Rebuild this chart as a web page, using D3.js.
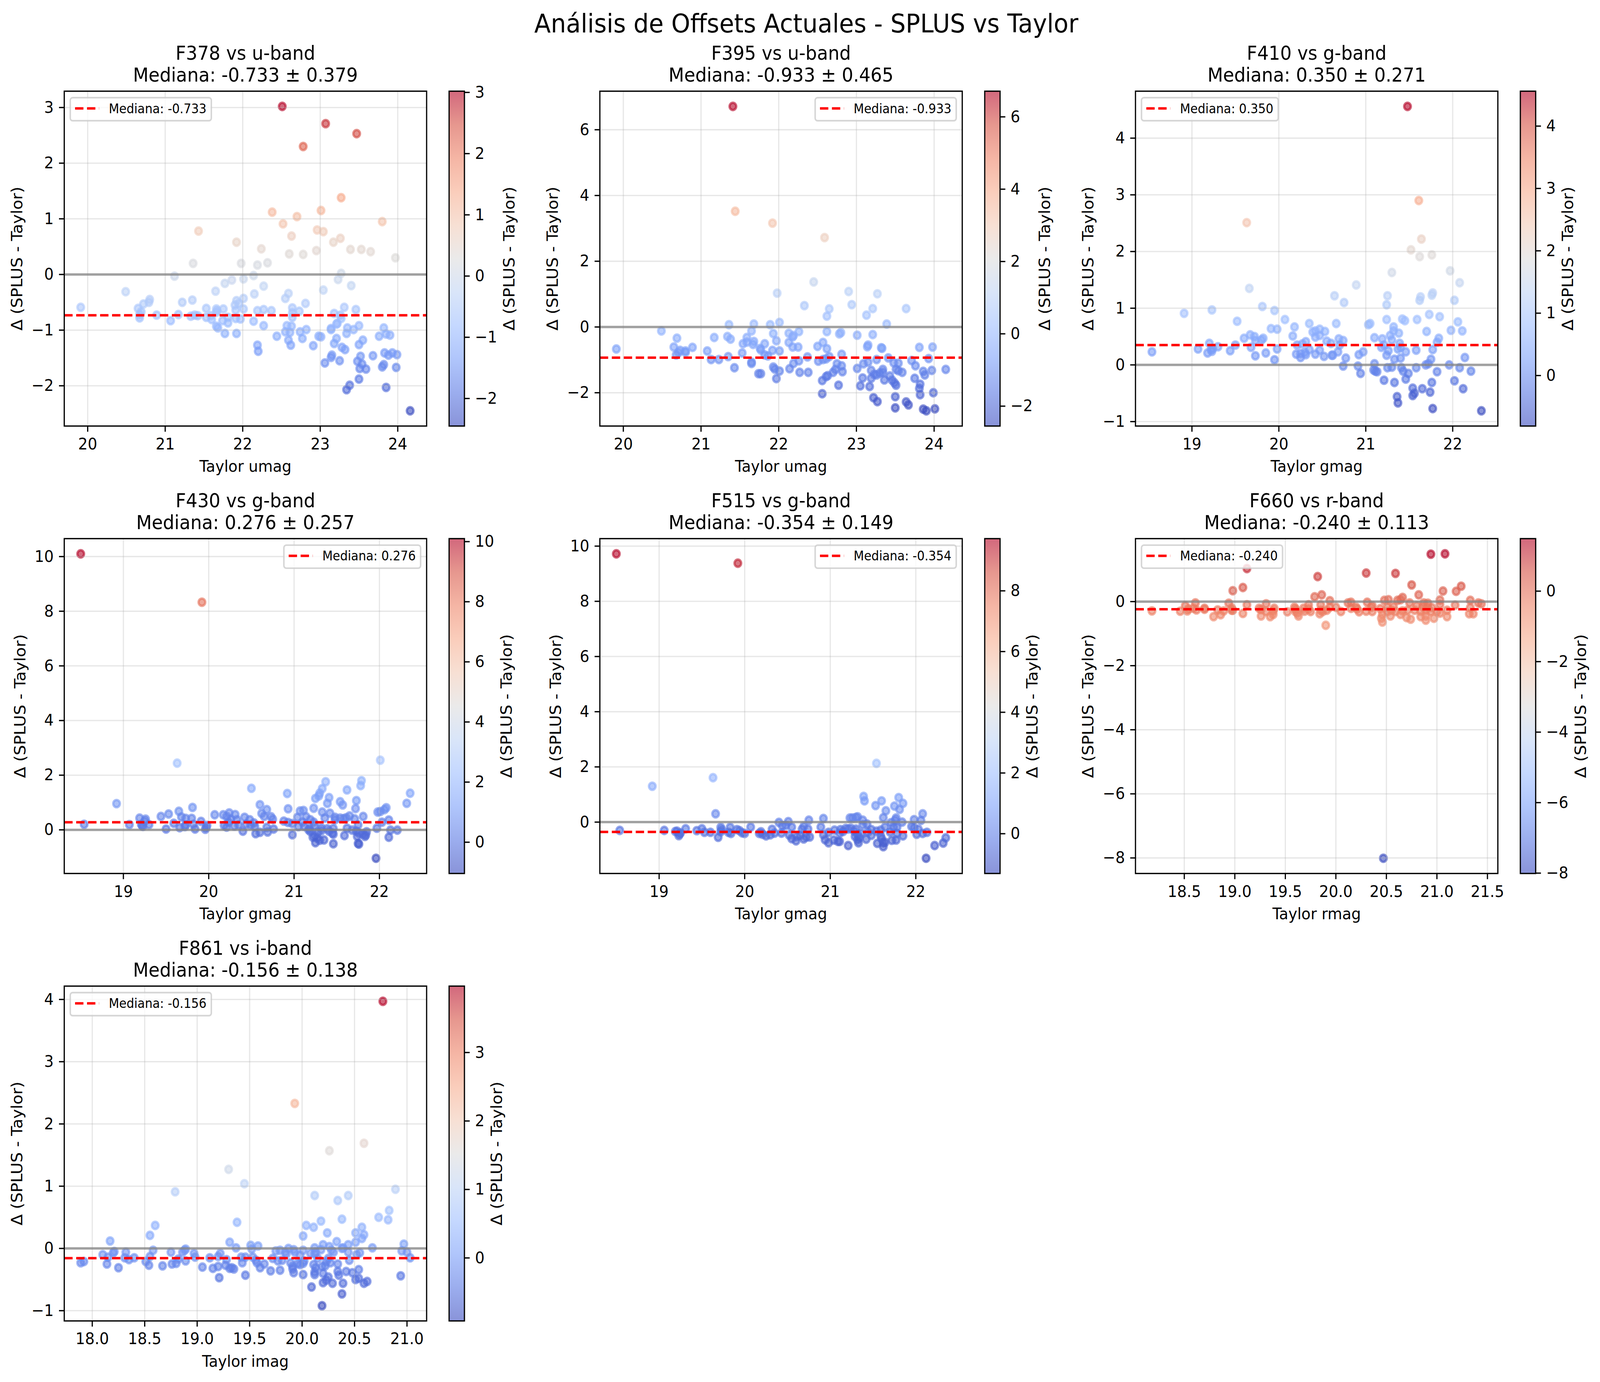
<!DOCTYPE html>
<html><head><meta charset="utf-8">
<script src="https://cdn.jsdelivr.net/npm/d3@7"></script>
<style>html,body{margin:0;padding:0;background:#fff;overflow:hidden}svg{display:block;width:100vw;height:100vh}text{font-family:"DejaVu Sans";fill:#000}</style>
</head><body><svg id="fig" viewBox="0 0 4433 3539" preserveAspectRatio="none"></svg>
<script>
const F378=[[22.51,3.02],[23.07,2.71],[23.47,2.53],[22.78,2.30],[23.27,1.38],[22.38,1.12],[23.01,1.15],[22.70,1.04],[22.52,0.91],[23.80,0.95],[21.43,0.78],[22.96,0.80],[23.04,0.77],[22.63,0.69],[23.26,0.65],[23.17,0.58],[21.92,0.58],[22.24,0.46],[23.39,0.45],[23.53,0.45],[23.65,0.41],[22.95,0.43],[22.60,0.37],[22.78,0.36],[23.97,0.30],[21.36,0.20],[21.98,0.20],[22.19,0.17],[22.32,0.21],[23.27,0.02],[21.12,-0.03],[22.14,-0.02],[22.01,-0.08],[23.23,-0.09],[21.86,-0.10],[21.77,-0.16],[23.40,-0.20],[22.27,-0.21],[23.04,-0.28],[21.65,-0.30],[20.49,-0.31],[22.59,-0.34],[22.15,-0.35],[22.55,-0.43],[22.01,-0.43],[21.92,-0.47],[21.35,-0.46],[20.80,-0.45],[20.79,-0.50],[20.72,-0.53],[21.22,-0.50],[22.81,-0.52],[21.95,-0.52],[21.90,-0.55],[19.91,-0.59],[20.65,-0.61],[21.53,-0.61],[21.66,-0.62],[21.75,-0.62],[22.64,-0.60],[22.27,-0.63],[21.67,-0.65],[23.46,-0.63],[23.31,-0.59],[22.01,-0.62],[21.91,-0.64],[22.19,-0.65],[22.37,-0.65],[22.73,-0.66],[22.64,-0.69],[23.18,-0.70],[23.26,-0.73],[20.69,-0.67],[20.67,-0.72],[20.67,-0.78],[21.17,-0.72],[20.89,-0.73],[21.33,-0.75],[21.38,-0.73],[21.42,-0.74],[21.53,-0.77],[21.59,-0.74],[21.60,-0.81],[21.66,-0.68],[21.81,-0.77],[21.74,-0.83],[21.81,-0.87],[21.91,-0.79],[21.97,-0.80],[22.14,-0.84],[22.64,-0.77],[23.27,-0.79],[21.07,-0.83],[23.22,-0.88],[23.21,-0.89],[21.66,-0.93],[21.68,-0.96],[22.57,-0.92],[22.63,-0.93],[22.27,-0.92],[23.50,-0.92],[23.82,-0.96],[23.14,-0.97],[23.14,-0.99],[23.35,-0.96],[23.43,-0.99],[22.82,-0.99],[22.74,-1.03],[22.55,-1.03],[22.61,-1.04],[23.34,-1.06],[21.77,-1.06],[21.92,-1.06],[23.85,-1.07],[23.90,-1.09],[23.76,-1.11],[22.44,-1.11],[22.98,-1.11],[23.01,-1.12],[23.21,-1.15],[22.77,-1.15],[23.55,-1.18],[22.59,-1.18],[23.18,-1.24],[23.50,-1.26],[22.62,-1.27],[22.91,-1.28],[22.19,-1.27],[23.28,-1.31],[23.32,-1.35],[22.20,-1.38],[23.83,-1.41],[23.93,-1.41],[23.99,-1.44],[23.88,-1.45],[23.68,-1.46],[23.15,-1.45],[23.14,-1.49],[23.52,-1.47],[23.48,-1.56],[23.25,-1.55],[23.06,-1.59],[23.54,-1.61],[23.82,-1.62],[23.80,-1.66],[23.98,-1.67],[23.51,-1.69],[23.59,-1.70],[23.50,-1.88],[23.38,-1.99],[23.34,-2.07],[23.85,-2.03],[24.16,-2.45]];
const F395=[[21.41,6.71],[21.44,3.52],[21.92,3.16],[22.59,2.72],[22.45,1.37],[21.98,1.03],[22.90,1.08],[23.27,1.01],[22.33,0.65],[22.94,0.68],[22.65,0.55],[23.21,0.56],[23.64,0.56],[22.62,0.33],[23.13,0.36],[23.39,0.09],[21.36,0.07],[21.68,0.09],[21.89,0.07],[22.01,0.14],[20.49,-0.12],[21.65,-0.12],[22.62,-0.14],[22.26,-0.14],[22.80,-0.17],[22.78,-0.21],[22.13,-0.19],[21.93,-0.20],[23.21,-0.23],[23.01,-0.25],[22.19,-0.26],[22.18,-0.30],[21.17,-0.32],[20.69,-0.34],[21.34,-0.29],[21.38,-0.37],[21.59,-0.32],[21.97,-0.42],[21.68,-0.44],[21.59,-0.46],[21.54,-0.51],[21.67,-0.53],[21.82,-0.51],[22.13,-0.47],[22.57,-0.47],[23.15,-0.55],[23.14,-0.60],[22.50,-0.59],[19.91,-0.67],[20.65,-0.61],[20.89,-0.62],[22.18,-0.61],[22.25,-0.61],[23.32,-0.63],[23.33,-0.65],[23.81,-0.62],[23.98,-0.61],[21.76,-0.65],[21.77,-0.70],[22.62,-0.66],[20.73,-0.71],[20.80,-0.73],[20.80,-0.77],[21.08,-0.73],[21.92,-0.71],[22.01,-0.73],[20.71,-0.78],[20.68,-0.85],[21.53,-0.79],[22.81,-0.83],[21.82,-0.85],[21.86,-0.88],[21.35,-0.90],[22.37,-0.91],[22.65,-0.90],[23.41,-0.94],[23.93,-0.96],[21.13,-0.99],[21.23,-0.99],[23.26,-0.99],[22.61,-0.97],[22.57,-0.99],[22.51,-1.04],[22.26,-1.03],[23.71,-1.02],[23.54,-1.10],[23.48,-1.09],[23.15,-1.07],[23.09,-1.12],[21.65,-1.07],[21.65,-1.11],[22.19,-1.11],[22.75,-1.12],[22.81,-1.18],[23.76,-1.18],[21.93,-1.22],[21.43,-1.24],[21.95,-1.28],[22.14,-1.27],[22.73,-1.29],[23.01,-1.26],[23.34,-1.29],[23.19,-1.32],[23.51,-1.29],[23.54,-1.33],[23.59,-1.38],[23.86,-1.35],[23.97,-1.32],[24.15,-1.29],[22.01,-1.34],[22.27,-1.38],[22.38,-1.38],[22.70,-1.38],[22.82,-1.36],[23.30,-1.40],[23.34,-1.38],[23.23,-1.44],[23.26,-1.46],[21.74,-1.42],[21.77,-1.42],[22.63,-1.48],[22.61,-1.51],[23.43,-1.49],[23.88,-1.46],[23.19,-1.56],[23.08,-1.55],[23.46,-1.62],[21.97,-1.57],[23.75,-1.56],[23.36,-1.61],[22.56,-1.63],[23.49,-1.70],[23.51,-1.77],[22.77,-1.77],[23.05,-1.79],[23.17,-1.81],[23.82,-1.74],[23.81,-1.87],[23.99,-2.00],[22.56,-2.03],[23.82,-2.06],[23.50,-2.12],[23.22,-2.15],[23.27,-2.27],[23.64,-2.28],[23.67,-2.37],[23.50,-2.46],[23.86,-2.50],[23.90,-2.55],[24.01,-2.49]];
const F410=[[21.48,4.56],[21.61,2.90],[19.63,2.51],[21.64,2.22],[21.52,2.03],[21.62,1.91],[21.76,1.94],[21.30,1.63],[21.97,1.66],[22.08,1.45],[20.89,1.41],[19.66,1.35],[20.64,1.22],[21.25,1.22],[21.77,1.27],[21.76,1.23],[21.63,1.20],[21.62,1.14],[22.02,1.14],[20.75,1.10],[21.24,1.06],[18.91,0.91],[19.23,0.97],[19.81,1.03],[19.95,0.96],[20.07,0.80],[19.52,0.77],[20.18,0.67],[20.35,0.73],[20.66,0.73],[21.03,0.71],[21.05,0.73],[21.24,0.80],[21.42,0.81],[21.45,0.78],[21.59,0.80],[21.73,0.89],[21.85,0.85],[22.06,0.76],[21.98,0.61],[22.11,0.60],[19.91,0.64],[19.98,0.63],[20.47,0.63],[20.42,0.60],[20.39,0.58],[20.53,0.59],[21.32,0.67],[21.32,0.60],[21.38,0.56],[21.28,0.52],[21.70,0.59],[20.16,0.51],[20.47,0.52],[20.42,0.49],[19.60,0.47],[19.67,0.53],[19.72,0.50],[19.73,0.43],[19.82,0.47],[19.80,0.44],[20.69,0.46],[20.74,0.43],[20.55,0.42],[20.31,0.41],[21.10,0.48],[21.19,0.46],[21.30,0.44],[21.84,0.47],[21.82,0.40],[19.20,0.38],[20.60,0.38],[20.27,0.37],[20.21,0.35],[20.70,0.35],[21.39,0.38],[21.21,0.35],[19.50,0.35],[19.30,0.32],[19.68,0.31],[21.18,0.31],[21.40,0.31],[19.24,0.29],[19.98,0.28],[20.35,0.27],[19.07,0.28],[19.22,0.27],[19.44,0.25],[20.47,0.26],[21.37,0.28],[21.26,0.25],[21.58,0.26],[21.77,0.27],[18.54,0.23],[19.18,0.21],[19.23,0.24],[19.85,0.21],[20.97,0.23],[21.46,0.23],[20.68,0.23],[20.30,0.22],[20.20,0.19],[20.25,0.20],[20.31,0.18],[20.42,0.19],[20.92,0.18],[21.24,0.17],[20.61,0.17],[20.62,0.17],[20.52,0.15],[19.73,0.16],[20.25,0.13],[19.95,0.09],[20.77,0.12],[21.40,0.12],[21.33,0.10],[21.75,0.10],[22.14,0.13],[21.10,0.02],[21.72,0.02],[21.69,0.00],[21.96,0.00],[20.74,-0.02],[20.91,-0.02],[21.25,-0.05],[21.30,-0.04],[21.41,-0.05],[21.58,-0.05],[22.08,-0.05],[21.09,-0.09],[21.11,-0.11],[21.13,-0.12],[21.43,-0.11],[21.82,-0.12],[22.21,-0.11],[20.94,-0.15],[21.49,-0.15],[21.46,-0.25],[21.21,-0.27],[21.33,-0.31],[21.76,-0.31],[22.02,-0.28],[21.54,-0.41],[21.65,-0.42],[22.12,-0.42],[21.74,-0.48],[21.56,-0.50],[21.54,-0.54],[21.36,-0.56],[21.37,-0.67],[21.77,-0.77],[22.33,-0.81]];
const F430=[[18.50,10.10],[19.92,8.33],[22.01,2.55],[19.63,2.44],[21.37,1.76],[21.79,1.80],[21.78,1.62],[21.33,1.51],[20.50,1.52],[21.62,1.46],[21.30,1.34],[20.92,1.33],[22.36,1.34],[21.29,1.24],[21.41,1.18],[21.25,1.15],[21.73,1.07],[21.54,1.03],[21.39,0.97],[21.57,0.91],[18.92,0.96],[20.60,0.92],[22.32,0.97],[19.81,0.82],[20.93,0.77],[20.68,0.74],[21.23,0.79],[21.72,0.78],[22.08,0.81],[22.06,0.74],[19.65,0.68],[21.11,0.71],[21.07,0.69],[21.33,0.65],[21.42,0.61],[21.98,0.65],[22.01,0.67],[20.24,0.62],[20.62,0.60],[20.07,0.55],[20.17,0.55],[20.31,0.56],[19.53,0.58],[20.65,0.49],[21.65,0.51],[19.44,0.49],[19.19,0.43],[19.68,0.47],[20.21,0.49],[20.42,0.46],[21.04,0.46],[21.14,0.48],[20.73,0.48],[21.81,0.49],[21.36,0.43],[21.48,0.46],[19.73,0.42],[19.80,0.42],[19.26,0.39],[20.26,0.39],[20.75,0.39],[21.71,0.40],[21.54,0.43],[21.58,0.41],[21.61,0.44],[20.48,0.37],[20.33,0.37],[21.19,0.37],[22.11,0.36],[21.48,0.37],[20.88,0.32],[19.91,0.31],[19.25,0.32],[20.93,0.27],[20.98,0.23],[19.59,0.24],[18.54,0.20],[19.07,0.19],[19.30,0.19],[19.21,0.20],[20.23,0.28],[20.53,0.25],[20.44,0.21],[20.49,0.18],[22.03,0.28],[21.23,0.28],[21.10,0.28],[21.24,0.16],[21.12,0.13],[21.75,0.18],[19.82,0.20],[19.22,0.15],[19.23,0.13],[19.66,0.08],[19.73,0.18],[19.72,0.12],[19.98,0.16],[19.97,0.09],[20.18,0.16],[20.21,0.10],[20.30,0.14],[20.35,0.18],[20.54,0.12],[20.68,0.09],[21.05,0.12],[19.50,0.03],[19.84,0.03],[19.96,0.02],[20.40,-0.05],[20.76,0.03],[21.18,0.04],[21.62,0.06],[21.97,0.06],[21.32,0.07],[21.39,0.04],[21.46,0.05],[21.17,0.00],[21.68,-0.01],[22.13,-0.01],[22.21,-0.01],[21.32,-0.03],[21.41,-0.05],[21.73,-0.05],[20.69,-0.08],[20.60,-0.09],[20.55,-0.14],[21.19,-0.06],[21.28,-0.09],[21.85,-0.07],[21.45,-0.12],[21.46,-0.16],[21.76,-0.12],[21.81,-0.16],[21.84,-0.19],[20.98,-0.18],[21.59,-0.21],[21.74,-0.24],[21.83,-0.24],[22.11,-0.27],[21.24,-0.22],[21.22,-0.27],[21.27,-0.30],[21.35,-0.37],[21.30,-0.38],[21.25,-0.47],[21.46,-0.51],[21.76,-0.52],[21.75,-0.50],[21.96,-1.04]];
const F515=[[18.50,9.72],[19.92,9.38],[21.54,2.13],[19.63,1.61],[18.92,1.30],[21.39,0.93],[21.80,0.89],[21.40,0.77],[21.60,0.77],[21.85,0.68],[21.53,0.60],[21.75,0.58],[21.81,0.46],[21.65,0.41],[19.66,0.30],[22.08,0.30],[21.62,0.16],[20.92,0.13],[21.23,0.15],[21.26,0.15],[21.32,0.19],[21.30,0.17],[20.75,0.07],[21.77,0.15],[21.98,0.09],[22.06,0.06],[21.38,0.07],[20.40,-0.01],[20.51,0.02],[21.76,0.07],[21.84,0.00],[21.71,-0.02],[21.43,-0.07],[21.38,-0.10],[20.44,-0.13],[20.48,-0.12],[20.69,-0.16],[21.95,-0.16],[20.89,-0.18],[20.07,-0.18],[19.72,-0.19],[19.83,-0.19],[19.31,-0.24],[19.50,-0.24],[20.55,-0.18],[21.64,-0.18],[21.74,-0.18],[21.78,-0.19],[21.98,-0.20],[18.54,-0.30],[19.06,-0.30],[19.19,-0.34],[19.21,-0.33],[19.44,-0.31],[19.73,-0.27],[19.91,-0.27],[19.94,-0.31],[20.32,-0.26],[20.67,-0.26],[20.74,-0.25],[21.05,-0.29],[21.12,-0.27],[21.18,-0.23],[21.21,-0.25],[21.24,-0.22],[21.30,-0.25],[21.48,-0.27],[21.59,-0.29],[22.03,-0.26],[19.53,-0.37],[19.60,-0.37],[19.24,-0.43],[19.23,-0.49],[19.25,-0.39],[19.69,-0.55],[19.72,-0.35],[19.81,-0.37],[19.84,-0.41],[19.97,-0.39],[20.00,-0.41],[20.19,-0.35],[20.17,-0.41],[20.21,-0.44],[20.25,-0.50],[20.30,-0.46],[20.35,-0.40],[20.43,-0.40],[20.52,-0.47],[20.55,-0.60],[20.61,-0.52],[20.65,-0.48],[20.60,-0.68],[20.69,-0.61],[20.72,-0.54],[20.76,-0.54],[20.92,-0.46],[20.98,-0.37],[20.94,-0.64],[20.98,-0.75],[21.04,-0.65],[21.09,-0.70],[21.11,-0.70],[21.11,-0.40],[21.15,-0.34],[21.21,-0.85],[21.28,-0.33],[21.32,-0.46],[21.29,-0.52],[21.34,-0.57],[21.32,-0.64],[21.33,-0.75],[21.36,-0.41],[21.42,-0.62],[21.48,-0.48],[21.44,-0.36],[21.54,-0.33],[21.59,-0.50],[21.55,-0.77],[21.60,-0.60],[21.62,-0.75],[21.62,-0.89],[21.64,-0.73],[21.72,-0.66],[21.77,-0.65],[21.70,-0.36],[21.78,-0.41],[21.85,-0.50],[22.01,-0.44],[22.08,-0.41],[22.13,-0.37],[22.12,-1.31],[22.22,-0.85],[22.32,-0.76],[22.35,-0.57]];
const F660=[[21.08,1.49],[20.94,1.48],[19.12,1.03],[20.30,0.89],[20.59,0.88],[19.82,0.78],[20.75,0.52],[21.24,0.48],[19.08,0.44],[18.98,0.34],[21.06,0.33],[21.19,0.32],[19.86,0.21],[20.82,0.21],[19.79,0.15],[20.66,0.13],[21.03,0.05],[21.33,0.04],[20.48,0.04],[20.52,0.06],[20.61,0.04],[20.64,0.06],[19.94,0.03],[18.61,-0.04],[18.94,-0.05],[20.12,-0.04],[20.15,-0.02],[20.31,-0.02],[19.31,-0.07],[20.73,-0.04],[20.87,-0.04],[20.91,-0.05],[21.41,-0.04],[21.44,-0.07],[18.51,-0.13],[19.12,-0.10],[19.73,-0.10],[21.18,-0.11],[19.85,-0.10],[20.36,-0.13],[19.59,-0.18],[19.60,-0.23],[20.80,-0.13],[21.03,-0.09],[18.54,-0.23],[18.59,-0.21],[18.70,-0.21],[18.97,-0.20],[19.24,-0.21],[19.39,-0.21],[18.98,-0.27],[19.94,-0.18],[20.00,-0.18],[20.15,-0.21],[20.20,-0.18],[20.21,-0.23],[20.35,-0.18],[20.51,-0.18],[20.57,-0.16],[20.86,-0.16],[20.91,-0.18],[20.95,-0.19],[21.33,-0.19],[19.68,-0.21],[19.73,-0.23],[21.10,-0.27],[18.18,-0.29],[18.46,-0.30],[18.53,-0.29],[18.62,-0.26],[18.70,-0.24],[18.83,-0.26],[18.89,-0.29],[18.97,-0.27],[19.26,-0.25],[19.31,-0.31],[19.38,-0.29],[19.52,-0.32],[19.60,-0.31],[19.62,-0.36],[19.69,-0.30],[19.75,-0.31],[19.85,-0.27],[19.87,-0.31],[19.91,-0.27],[20.05,-0.31],[20.23,-0.32],[20.30,-0.30],[20.36,-0.31],[20.44,-0.22],[20.46,-0.40],[20.51,-0.31],[20.55,-0.27],[20.59,-0.31],[20.66,-0.29],[20.71,-0.27],[20.78,-0.27],[20.84,-0.30],[20.89,-0.27],[20.94,-0.31],[21.00,-0.31],[21.03,-0.36],[21.32,-0.38],[21.36,-0.38],[19.08,-0.37],[19.84,-0.38],[19.26,-0.45],[19.35,-0.47],[18.86,-0.41],[18.79,-0.47],[19.38,-0.40],[19.63,-0.45],[21.10,-0.47],[20.54,-0.45],[20.64,-0.40],[20.84,-0.47],[20.89,-0.45],[20.97,-0.52],[20.70,-0.50],[20.74,-0.55],[20.45,-0.52],[20.89,-0.58],[20.46,-0.64],[19.90,-0.74],[20.47,-8.01]];
const F861=[[20.77,3.97],[19.93,2.33],[20.59,1.69],[20.26,1.57],[19.30,1.27],[19.45,1.04],[20.89,0.95],[18.79,0.91],[20.12,0.85],[20.44,0.85],[20.34,0.77],[20.83,0.61],[20.38,0.47],[20.73,0.50],[20.82,0.46],[19.38,0.42],[20.18,0.44],[18.60,0.37],[20.04,0.37],[20.11,0.34],[20.57,0.34],[20.24,0.25],[20.51,0.25],[20.59,0.22],[18.55,0.21],[20.01,0.20],[20.57,0.16],[18.17,0.12],[19.31,0.10],[20.33,0.11],[20.97,0.07],[20.51,0.10],[19.51,0.05],[19.58,0.04],[20.20,0.06],[20.44,0.06],[20.26,0.03],[19.37,0.01],[20.67,0.01],[20.12,0.01],[20.39,0.01],[19.87,0.00],[18.89,-0.01],[18.58,-0.03],[18.88,-0.03],[19.52,-0.01],[19.75,-0.04],[19.79,-0.03],[19.92,-0.02],[20.01,-0.03],[20.18,-0.02],[20.38,0.00],[20.28,-0.03],[20.30,-0.06],[20.95,-0.04],[18.21,-0.05],[18.32,-0.06],[18.20,-0.07],[18.75,-0.06],[18.86,-0.06],[19.84,-0.06],[19.93,-0.06],[20.44,-0.06],[21.00,-0.06],[20.55,-0.07],[20.13,-0.06],[18.97,-0.08],[19.22,-0.08],[19.85,-0.09],[19.98,-0.11],[20.08,-0.08],[20.12,-0.09],[20.52,-0.10],[18.10,-0.10],[18.15,-0.14],[19.20,-0.13],[18.55,-0.13],[18.31,-0.15],[18.35,-0.18],[18.40,-0.15],[18.98,-0.14],[18.82,-0.17],[19.12,-0.15],[19.28,-0.18],[19.42,-0.14],[19.46,-0.14],[19.53,-0.14],[19.72,-0.16],[20.15,-0.16],[20.25,-0.16],[21.03,-0.15],[18.51,-0.21],[18.89,-0.20],[19.56,-0.19],[19.77,-0.20],[19.81,-0.19],[19.89,-0.23],[19.43,-0.23],[19.57,-0.23],[20.02,-0.20],[19.96,-0.24],[20.23,-0.21],[20.27,-0.23],[20.45,-0.19],[17.89,-0.23],[17.92,-0.21],[18.14,-0.25],[18.54,-0.27],[18.76,-0.25],[18.80,-0.24],[19.64,-0.25],[20.34,-0.25],[19.98,-0.26],[20.01,-0.24],[18.67,-0.28],[19.27,-0.27],[19.20,-0.29],[20.11,-0.26],[20.22,-0.28],[20.19,-0.29],[19.91,-0.29],[18.25,-0.31],[19.05,-0.30],[19.60,-0.31],[19.31,-0.32],[19.15,-0.32],[19.33,-0.31],[19.35,-0.33],[20.13,-0.31],[19.91,-0.33],[19.79,-0.35],[20.54,-0.34],[19.70,-0.36],[20.34,-0.37],[20.42,-0.37],[19.92,-0.39],[20.12,-0.38],[20.20,-0.40],[20.48,-0.39],[20.35,-0.43],[20.12,-0.42],[20.01,-0.42],[19.46,-0.43],[20.94,-0.44],[19.21,-0.47],[20.54,-0.48],[20.25,-0.46],[20.51,-0.50],[20.23,-0.51],[20.62,-0.53],[20.20,-0.55],[20.29,-0.56],[20.39,-0.56],[20.59,-0.56],[20.09,-0.62],[20.38,-0.73],[20.19,-0.92]];

const series=[F378,F395,F410,F430,F515,F660,F861];
const filterNames=["F378","F395","F410","F430","F515","F660","F861"];
const bandNames=["u-band","u-band","g-band","g-band","g-band","r-band","i-band"];
const xNames=["Taylor umag","Taylor umag","Taylor gmag","Taylor gmag","Taylor gmag","Taylor rmag","Taylor imag"];
const medians=[-0.733,-0.933,0.350,0.276,-0.354,-0.240,-0.156];
const spreads=[0.379,0.465,0.271,0.257,0.149,0.113,0.138];
const xTickSets=[[20,21,22,23,24],[20,21,22,23,24],[19,20,21,22],[19,20,21,22],[19,20,21,22],[18.5,19,19.5,20,20.5,21,21.5],[18,18.5,19,19.5,20,20.5,21]];
const yTickSets=[[-2,-1,0,1,2,3],[-2,0,2,4,6],[-1,0,1,2,3,4],[0,2,4,6,8,10],[0,2,4,6,8,10],[-8,-6,-4,-2,0],[-1,0,1,2,3,4]];
const cbTickSets=[[-2,-1,0,1,2,3],[-2,0,2,4,6],[0,1,2,3,4],[0,2,4,6,8,10],[0,2,4,6,8],[-8,-6,-4,-2,0],[0,1,2,3]];
const legendSides=["left","right","left","right","right","left","left"];
const coolwarmStops=["#3b4cc0","#5977e3","#7b9ff9","#9ebeff","#c0d4f5","#dddcdc","#f2cbb7","#f7ac8e","#ee8468","#d65244","#b40426"];
const suptitle="Análisis de Offsets Actuales - SPLUS vs Taylor";
const cbLabel="Δ (SPLUS - Taylor)";

const PT=300/72;
const colLeft=[178,1662,3146], rowTop=[233.5,1379.3,2525.2], rowBottom=[1091,2236.8,3382.6];
const axW=1004, cbGap=62.3, cbW=42.5;
const svg=d3.select("#fig");
svg.append("text").attr("x",2234).attr("y",83).attr("text-anchor","middle").attr("font-size",16*PT).text(suptitle);
const defs=svg.append("defs");
const stopPos=d3.range(coolwarmStops.length).map(i=>i/(coolwarmStops.length-1));
const grad=defs.append("linearGradient").attr("id","cw").attr("x1",0).attr("x2",0).attr("y1",1).attr("y2",0);
coolwarmStops.forEach((c,i)=>grad.append("stop").attr("offset",stopPos[i]).attr("stop-color",c).attr("stop-opacity",0.6));

function pad(ext){const m=(ext[1]-ext[0])*0.05;return [ext[0]-m,ext[1]+m];}
function styleAxis(g){
  g.select(".domain").remove();
  g.selectAll(".tick line").attr("stroke","#000").attr("stroke-width",0.8*PT);
  g.selectAll(".tick text").attr("font-size",10*PT).attr("font-family","DejaVu Sans").attr("fill","#000");
}
function maxW(g){let w=0;g.selectAll(".tick text").each(function(){w=Math.max(w,this.getComputedTextLength());});return w;}

series.forEach((pts,i)=>{
  const col=i%3,row=Math.floor(i/3);
  const left=colLeft[col],top=rowTop[row],bottom=rowBottom[row],right=left+axW;
  const xs=pts.map(d=>d[0]),ys=pts.map(d=>d[1]);
  const vExt=d3.extent(ys);
  const x=d3.scaleLinear().domain(pad(d3.extent(xs))).range([left,right]);
  const y=d3.scaleLinear().domain(pad(vExt)).range([bottom,top]);
  const color=d3.scaleLinear().domain(stopPos.map(t=>vExt[0]+t*(vExt[1]-vExt[0]))).range(coolwarmStops).interpolate(d3.interpolateRgb);
  const clipId="clip"+i;
  defs.append("clipPath").attr("id",clipId).append("rect").attr("x",left).attr("y",top).attr("width",axW).attr("height",bottom-top);
  const g=svg.append("g");
  const plot=g.append("g").attr("clip-path",`url(#${clipId})`);
  plot.append("g").selectAll("circle").data(pts).join("circle")
    .attr("cx",d=>x(d[0])).attr("cy",d=>y(d[1])).attr("r",Math.sqrt(20)/2*PT)
    .attr("fill",d=>color(d[1])).attr("fill-opacity",0.6)
    .attr("stroke",d=>color(d[1])).attr("stroke-opacity",0.6).attr("stroke-width",1.5*PT);
  const xT=xTickSets[i],yT=yTickSets[i];
  plot.append("g").selectAll("line").data(xT).join("line").attr("x1",d=>x(d)).attr("x2",d=>x(d)).attr("y1",top).attr("y2",bottom)
    .attr("stroke","#b0b0b0").attr("stroke-opacity",0.3).attr("stroke-width",0.8*PT);
  plot.append("g").selectAll("line").data(yT).join("line").attr("y1",d=>y(d)).attr("y2",d=>y(d)).attr("x1",left).attr("x2",right)
    .attr("stroke","#b0b0b0").attr("stroke-opacity",0.3).attr("stroke-width",0.8*PT);
  plot.append("line").attr("x1",left).attr("x2",right).attr("y1",y(0)).attr("y2",y(0))
    .attr("stroke","#808080").attr("stroke-opacity",0.7).attr("stroke-width",1.5*PT);
  plot.append("line").attr("x1",left).attr("x2",right).attr("y1",y(medians[i])).attr("y2",y(medians[i]))
    .attr("stroke","#ff0000").attr("stroke-width",1.5*PT).attr("stroke-dasharray",`${3.7*1.5*PT} ${1.6*1.5*PT}`);
  const xFmt=xT.some(t=>t%1!==0)?d3.format(".1f"):d3.format("d");
  const gx=g.append("g").attr("transform",`translate(0,${bottom})`)
    .call(d3.axisBottom(x).tickValues(xT).tickFormat(xFmt).tickSize(3.5*PT).tickPadding(3.5*PT+1).offset(0));
  styleAxis(gx);
  const gy=g.append("g").attr("transform",`translate(${left},0)`)
    .call(d3.axisLeft(y).tickValues(yT).tickFormat(d3.format("d")).tickSize(3.5*PT).tickPadding(3.5*PT).offset(0));
  styleAxis(gy);
  const cx=(left+right)/2,cy=(top+bottom)/2;
  g.append("text").attr("x",cx).attr("y",bottom+117).attr("text-anchor","middle").attr("font-size",10*PT).text(xNames[i]);
  const fmtVal=v=>v.toFixed(3);
  g.append("text").attr("x",cx).attr("y",top-80).attr("text-anchor","middle").attr("font-size",12*PT).text(`${filterNames[i]} vs ${bandNames[i]}`);
  g.append("text").attr("x",cx).attr("y",top-24.5).attr("text-anchor","middle").attr("font-size",12*PT).text(`Mediana: ${fmtVal(medians[i])} ± ${fmtVal(spreads[i])}`);
  const yw=maxW(gy);
  const ylx=left-(yw+7*PT+4*PT+9);
  g.append("text").attr("transform",`translate(${ylx},${cy}) rotate(-90)`).attr("text-anchor","middle").attr("font-size",10*PT).text(cbLabel);
  const legText=`Mediana: ${fmtVal(medians[i])}`;
  const leg=g.append("g");
  const frame=leg.append("rect");
  const lt=leg.append("text").attr("font-size",8*PT).text(legText);
  const lw=lt.node().getComputedTextLength();
  const bp=0.4*8*PT, hl=2*8*PT, htp=0.8*8*PT, bap=0.5*8*PT;
  const bw=bp*2+hl+htp+lw, bh=59;
  const bx=legendSides[i]==="left"?left+bap:right-bap-bw, by=top+bap;
  frame.attr("x",bx).attr("y",by).attr("width",bw).attr("height",bh).attr("rx",0.2*8*PT).attr("ry",0.2*8*PT)
    .attr("fill","#fff").attr("fill-opacity",0.8).attr("stroke","#cccccc").attr("stroke-opacity",0.8).attr("stroke-width",1*PT);
  lt.attr("x",bx+bp+hl+htp).attr("y",by+39.5);
  leg.append("line").attr("x1",bx+bp).attr("x2",bx+bp+hl).attr("y1",by+27.5).attr("y2",by+27.5)
    .attr("stroke","#ff0000").attr("stroke-width",1.5*PT).attr("stroke-dasharray",`${3.7*1.5*PT} ${1.6*1.5*PT}`);
  g.append("rect").attr("x",left).attr("y",top).attr("width",axW).attr("height",bottom-top).attr("fill","none").attr("stroke","#000").attr("stroke-width",0.8*PT);
  const cbL=right+cbGap;
  const cbS=d3.scaleLinear().domain(vExt).range([bottom,top]);
  g.append("rect").attr("x",cbL).attr("y",top).attr("width",cbW).attr("height",bottom-top).attr("fill","url(#cw)");
  g.append("rect").attr("x",cbL).attr("y",top).attr("width",cbW).attr("height",bottom-top).attr("fill","none").attr("stroke","#000").attr("stroke-width",0.8*PT);
  const gc=g.append("g").attr("transform",`translate(${cbL+cbW},0)`)
    .call(d3.axisRight(cbS).tickValues(cbTickSets[i]).tickFormat(d3.format("d")).tickSize(3.5*PT).tickPadding(3.5*PT).offset(0));
  styleAxis(gc);
  const cw=maxW(gc);
  g.append("text").attr("transform",`translate(${cbL+cbW+7*PT+cw+4*PT+31.6},${cy}) rotate(-90)`).attr("text-anchor","middle").attr("font-size",10*PT).text(cbLabel);
});
</script></body></html>
